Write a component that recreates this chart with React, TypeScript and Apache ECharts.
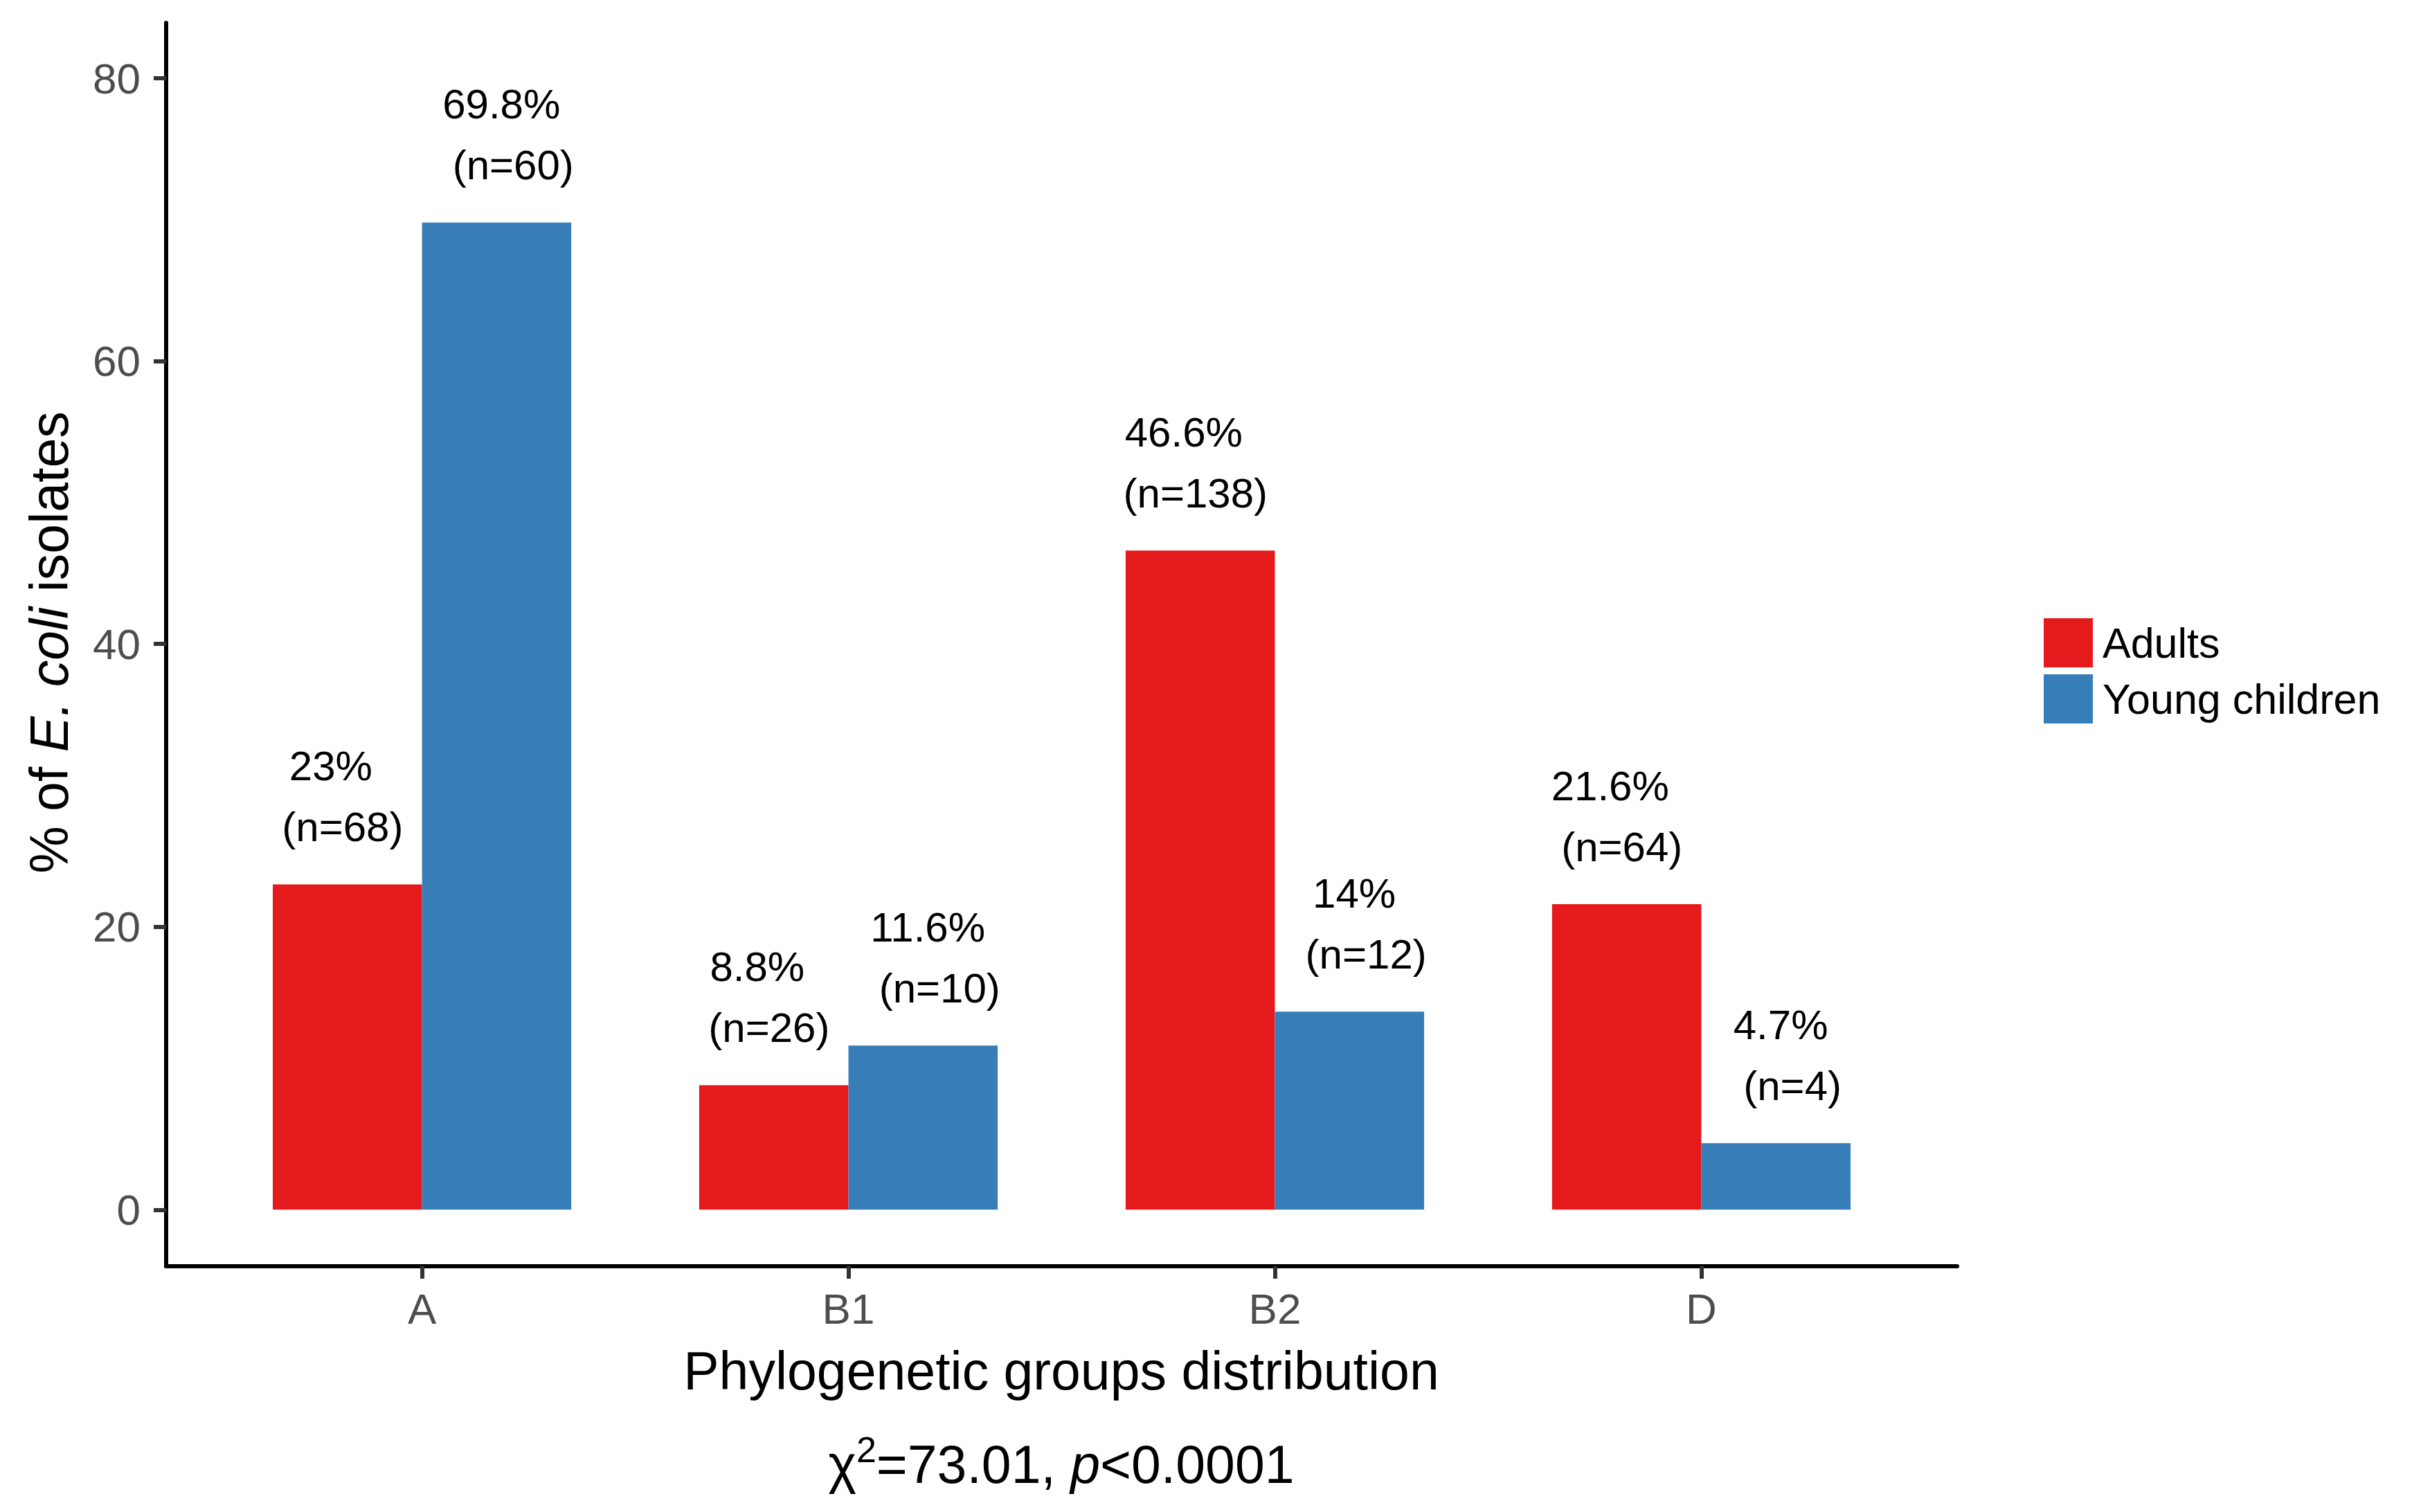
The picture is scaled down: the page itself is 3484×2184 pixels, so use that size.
import React, { useEffect, useRef } from "react";
import * as echarts from "echarts";

const categories = ["A", "B1", "B2", "D"];
const adultsPct = [23, 8.8, 46.6, 21.6];
const youngPct = [69.8, 11.6, 14, 4.7];
const adultsN = [68, 26, 138, 64];
const youngN = [60, 10, 12, 4];
const yTicks = [0, 20, 40, 60, 80];
const xTicks = [1, 2, 3, 4];
const seriesNames = ["Adults", "Young children"];
const seriesColors = ["#E41A1C", "#377EB8"];
const xTitle = "Phylogenetic groups distribution";

const FONT = "'Liberation Sans', Arial, Helvetica, sans-serif";

function makeRender(side: number, color: string) {
  return (params: any, api: any) => {
    const x = api.value(0);
    const v = api.value(1);
    const n = api.value(2);
    const x0 = side < 0 ? x - 0.35 : x;
    const x1 = side < 0 ? x : x + 0.35;
    const p0 = api.coord([x0, v]);
    const p1 = api.coord([x1, 0]);
    const anchor = api.coord([x + side * 0.2, v]);
    const textStyle = {
      fontSize: 60,
      fontFamily: FONT,
      fill: "#000000",
      align: "center",
      verticalAlign: "middle",
    };
    return {
      type: "group",
      children: [
        {
          type: "rect",
          shape: { x: p0[0], y: p0[1], width: p1[0] - p0[0], height: p1[1] - p0[1] },
          style: { fill: color },
        },
        {
          type: "text",
          x: anchor[0] - 8.5,
          y: p0[1] - 171,
          style: { ...textStyle, text: `${v}%` },
        },
        {
          type: "text",
          x: anchor[0] + 8.5,
          y: p0[1] - 83,
          style: { ...textStyle, text: `(n=${n})` },
        },
      ],
    };
  };
}

export default function App() {
  const ref = useRef<HTMLDivElement>(null);
  useEffect(() => {
    if (!ref.current) return;
    const chart = echarts.init(ref.current, null, { renderer: "svg" });
    const adultsData = categories.map((_, i) => [i + 1, adultsPct[i], adultsN[i]]);
    const youngData = categories.map((_, i) => [i + 1, youngPct[i], youngN[i]]);
    const option: any = {
      animation: false,
      backgroundColor: "#ffffff",
      textStyle: { fontFamily: FONT },
      grid: { left: 240, top: 33, width: 2587, height: 1796, containLabel: false },
      xAxis: {
        type: "value",
        min: 0.4,
        max: 4.6,
        splitLine: { show: false },
        axisLine: { show: true, onZero: false, lineStyle: { color: "#000000", width: 6 } },
        axisTick: { show: true, customValues: xTicks, length: 18, lineStyle: { color: "#333333", width: 6 } },
        axisLabel: {
          customValues: xTicks,
          formatter: (val: number) => categories[Math.round(val) - 1] ?? "",
          fontSize: 62,
          color: "#4D4D4D",
          fontFamily: FONT,
          margin: 30,
        },
      },
      yAxis: {
        type: "value",
        min: -4,
        max: 83.92,
        splitLine: { show: false },
        axisLine: { show: true, onZero: false, lineStyle: { color: "#000000", width: 6 } },
        axisTick: { show: true, customValues: yTicks, length: 18, lineStyle: { color: "#333333", width: 6 } },
        axisLabel: {
          customValues: yTicks,
          fontSize: 62,
          color: "#4D4D4D",
          fontFamily: FONT,
          margin: 37,
        },
      },
      legend: {
        orient: "vertical",
        left: 2952,
        top: 893,
        padding: 0,
        itemWidth: 71,
        itemHeight: 71,
        itemGap: 10,
        icon: "rect",
        data: seriesNames,
        textStyle: { fontSize: 61, color: "#000000", fontFamily: FONT, padding: [0, 0, 0, 9] },
      },
      series: [
        {
          type: "custom",
          name: seriesNames[0],
          data: adultsData,
          encode: { x: 0, y: 1 },
          itemStyle: { color: seriesColors[0] },
          renderItem: makeRender(-1, seriesColors[0]),
        },
        {
          type: "custom",
          name: seriesNames[1],
          data: youngData,
          encode: { x: 0, y: 1 },
          itemStyle: { color: seriesColors[1] },
          renderItem: makeRender(1, seriesColors[1]),
        },
      ],
      graphic: [
        {
          type: "text",
          x: 1533,
          y: 1980,
          style: {
            text: xTitle,
            fontSize: 77,
            fontFamily: FONT,
            fill: "#000000",
            align: "center",
            verticalAlign: "middle",
          },
        },
        {
          type: "text",
          x: 1533,
          y: 2115,
          style: {
            text: "{n|χ}{s|2}{n|=73.01, }{i|p}{n|<0.0001}",
            align: "center",
            verticalAlign: "middle",
            fill: "#000000",
            rich: {
              n: { fontSize: 77, lineHeight: 94, fontFamily: FONT, fill: "#000000" },
              s: { fontSize: 52, lineHeight: 52, verticalAlign: "top", fontFamily: FONT, fill: "#000000" },
              i: { fontSize: 77, lineHeight: 94, fontStyle: "italic", fontFamily: FONT, fill: "#000000" },
            },
          },
        },
        {
          type: "text",
          x: 71,
          y: 928,
          rotation: Math.PI / 2,
          style: {
            text: "{n|% of }{i|E. coli}{n| isolates}",
            align: "center",
            verticalAlign: "middle",
            fill: "#000000",
            rich: {
              n: { fontSize: 77, fontFamily: FONT, fill: "#000000" },
              i: { fontSize: 77, fontStyle: "italic", fontFamily: FONT, fill: "#000000" },
            },
          },
        },
      ],
    };
    chart.setOption(option);
    return () => chart.dispose();
  }, []);
  return (
    <div
      ref={ref}
      style={{ position: "fixed", left: 0, top: 0, width: "3484px", height: "2184px", background: "#fff" }}
    />
  );
}
